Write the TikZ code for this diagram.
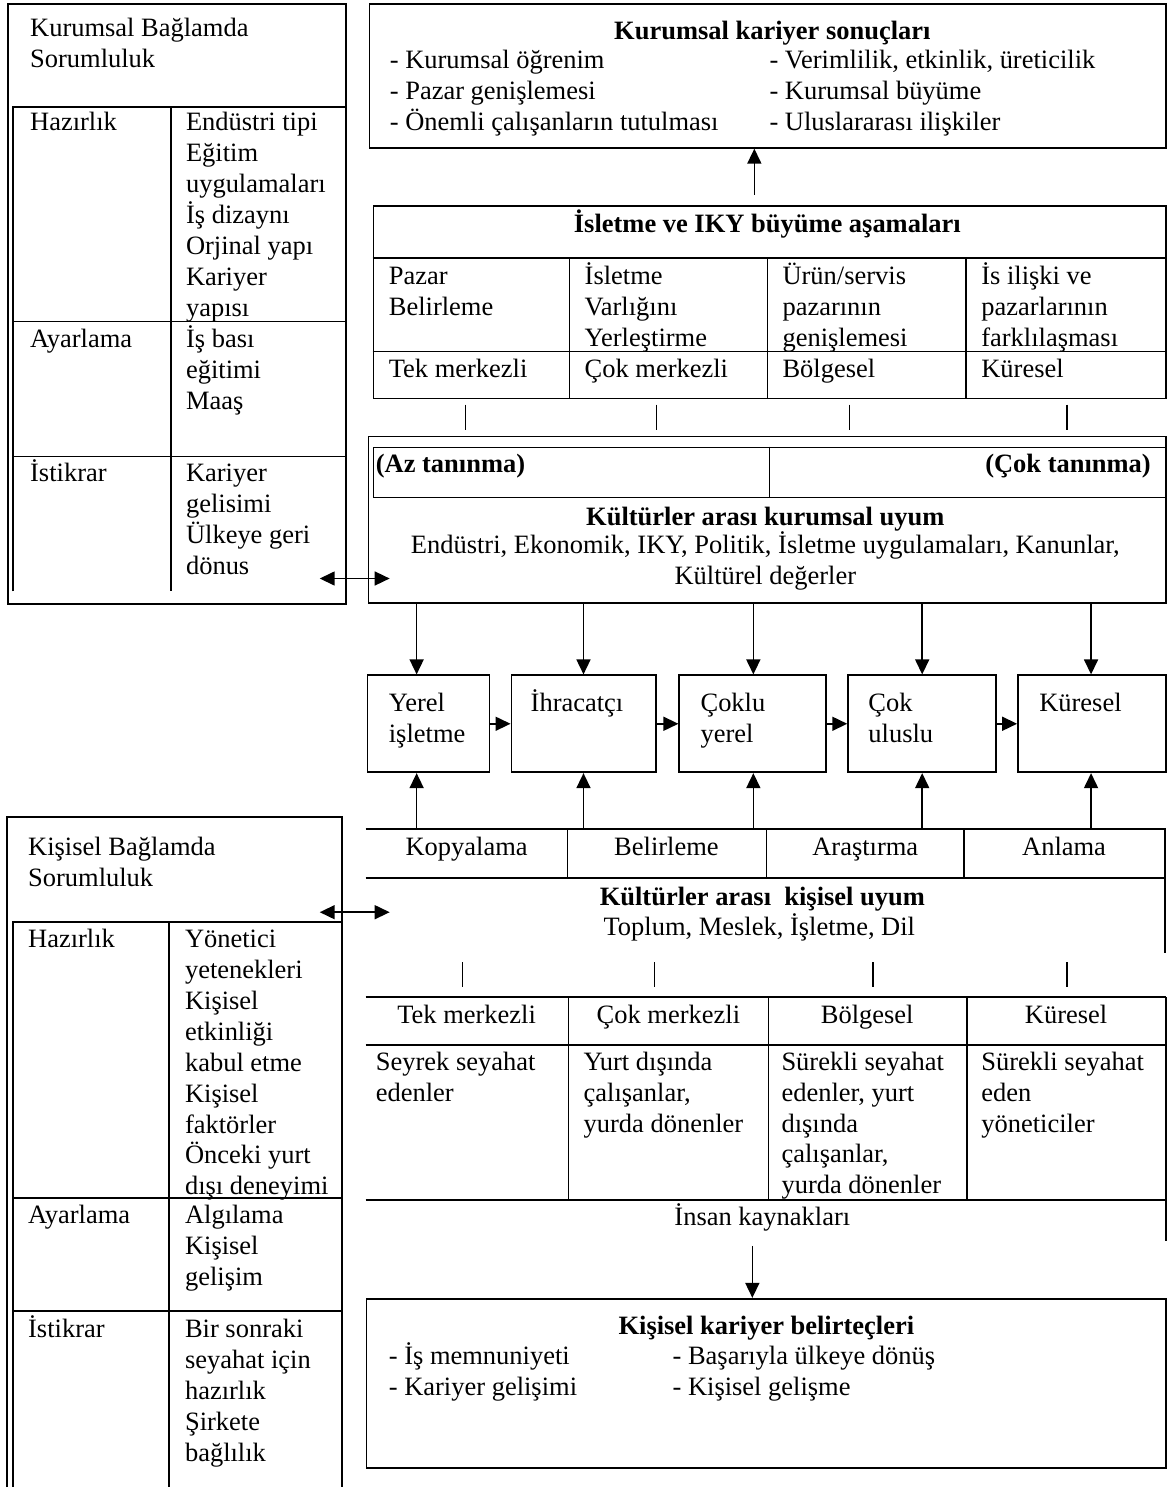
\documentclass[tikz,border=0pt]{standalone}
\usepackage{fontspec}
\setmainfont{Liberation Serif}
\usetikzlibrary{arrows.meta}

\newcommand{\fs}{\fontsize{26.5pt}{31pt}\selectfont}
\newcommand{\txtl}[1]{\begin{tabular}[t]{@{}l@{}}#1\end{tabular}}
\newcommand{\txtc}[1]{\begin{tabular}[t]{@{}c@{}}#1\end{tabular}}

\tikzset{
	frame/.style={draw, line width=1.8pt},
	box/.style={frame, inner sep=0pt, anchor=north west},
	area/.style={inner sep=0pt, anchor=north west},
	rule/.style={line width=1.5pt},
	lbl/.style={inner sep=0pt, anchor=base west},
	mid/.style={inner sep=0pt, anchor=base},
	hdr/.style={mid, font={\fs\bfseries}},
	arr/.style={line width=1.6pt, -{Triangle[length=15pt, width=14pt]}},
	darr/.style={line width=1.6pt, {Triangle[length=15pt, width=14pt]}-{Triangle[length=15pt, width=14pt]}},
}

\begin{document}
\begin{tikzpicture}[x=1pt, y=-1pt, font=\fs]
	\path (0,0) to (1169,1488);

	\node[box, minimum width=338pt, minimum height=601pt] (kbs) at (7,3) {};
	\node[box, minimum width=797pt, minimum height=144pt] (kks) at (369,3) {};
	\node[box, minimum width=793pt, minimum height=193pt] (iky) at (373,205) {};
	\node[box, minimum width=798pt, minimum height=167pt] (kku) at (368,436) {};
	\node[box, minimum width=793pt, minimum height=50pt] (tan) at (373,447) {};
	\node[box, minimum width=122pt, minimum height=97pt] (yerel) at (367,675) {};
	\node[box, minimum width=145pt, minimum height=97pt] (ihr) at (511,675) {};
	\node[box, minimum width=147pt, minimum height=97pt] (coklu) at (679,675) {};
	\node[box, minimum width=148pt, minimum height=97pt] (cokul) at (848,675) {};
	\node[box, minimum width=148pt, minimum height=97pt] (kur) at (1018,675) {};
	\node[area, minimum width=800pt, minimum height=123pt] (ksu) at (366,830) {};
	\node[area, minimum width=801pt, minimum height=203pt] (ikt) at (366,998) {};
	\node[box, minimum width=800pt, minimum height=169pt] (kkb) at (366,1299) {};
	\node[area, minimum width=335pt, minimum height=670pt] (kis) at (7,818) {};

	\draw[rule] (13,592) -- (13,107) -- (345,107);
	\draw[rule] (171,107) -- (171,592);
	\foreach \y in {322,457} \draw[rule] (13,\y) -- (345,\y);

	\draw[frame] (kis.south west) -- (kis.north west) -- (kis.north east) -- (kis.south east);
	\draw[rule] (13,1488) -- (13,923) -- (342,923);
	\draw[rule] (169,923) -- (169,1488);
	\foreach \y in {1199,1312} \draw[rule] (13,\y) -- (342,\y);

	\foreach \y in {258,352} \draw[rule] (373,\y) -- (1166,\y);
	\foreach \x in {570,768,967} \draw[rule] (\x,258) -- (\x,398);
	\draw[rule] (770,447) -- (770,497);
	\foreach \x in {466,657,850,1068} \draw[rule] (\x,405) -- (\x,430);

	\draw[frame] (ksu.north west) -- (ksu.north east) -- (ksu.south east);
	\draw[rule] (366,879) -- (1166,879);
	\foreach \x in {568,767,965} \draw[rule] (\x,830) -- (\x,879);
	\foreach \x in {463,655,874,1068} \draw[rule] (\x,963) -- (\x,988);

	\foreach \y in {998,1046,1201} \draw[rule] (366,\y) -- (1167,\y);
	\foreach \x in {569,769,968} \draw[rule] (\x,998) -- (\x,1201);
	\draw[frame] (1167,998) -- (1167,1242);

	\node[lbl] (kbs1) at (30,37) {\txtl{Kurumsal Bağlamda\\Sorumluluk}};
	\node[lbl] (kbs2) at (30,131) {Hazırlık};
	\node[lbl] (kbs3) at (186,131) {\txtl{Endüstri tipi\\Eğitim\\uygulamaları\\İş dizaynı\\Orjinal yapı\\Kariyer\\yapısı}};
	\node[lbl] (kbs4) at (30,348) {Ayarlama};
	\node[lbl] (kbs5) at (186,348) {\txtl{İş bası\\eğitimi\\Maaş}};
	\node[lbl] (kbs6) at (30,482) {İstikrar};
	\node[lbl] (kbs7) at (186,482) {\txtl{Kariyer\\gelisimi\\Ülkeye geri\\dönus}};

	\node[hdr] (kks1) at (773,40) {Kurumsal kariyer sonuçları};
	\node[lbl] (kks2) at (390,69) {\txtl{- Kurumsal öğrenim\\- Pazar genişlemesi\\- Önemli çalışanların tutulması}};
	\node[lbl] (kks3) at (770,69) {\txtl{- Verimlilik, etkinlik, üreticilik\\- Kurumsal büyüme\\- Uluslararası ilişkiler}};

	\node[hdr] (iky1) at (768,233) {İsletme ve IKY büyüme aşamaları};
	\node[lbl] (iky2) at (389,285) {\txtl{Pazar\\Belirleme}};
	\node[lbl] (iky3) at (585,285) {\txtl{İsletme\\Varlığını\\Yerleştirme}};
	\node[lbl] (iky4) at (783,285) {\txtl{Ürün/servis\\pazarının\\genişlemesi}};
	\node[lbl] (iky5) at (982,285) {\txtl{İs ilişki ve\\pazarlarının\\farklılaşması}};
	\node[lbl] (iky6) at (389,378) {Tek merkezli};
	\node[lbl] (iky7) at (585,378) {Çok merkezli};
	\node[lbl] (iky8) at (783,378) {Bölgesel};
	\node[lbl] (iky9) at (982,378) {Küresel};

	\node[lbl, font={\fs\bfseries}] (tan1) at (376,473) {(Az tanınma)};
	\node[lbl, anchor=base east, font={\fs\bfseries}] (tan2) at (1152,473) {(Çok tanınma)};
	\node[hdr] (kku1) at (766,526) {Kültürler arası kurumsal uyum};
	\node[mid] (kku2) at (766,554) {\txtc{Endüstri, Ekonomik, IKY, Politik, İsletme uygulamaları, Kanunlar,\\Kültürel değerler}};

	\node[lbl] (yerel1) at (389,712) {\txtl{Yerel\\işletme}};
	\node[lbl] (ihr1) at (531,712) {İhracatçı};
	\node[lbl] (coklu1) at (701,712) {\txtl{Çoklu\\yerel}};
	\node[lbl] (cokul1) at (869,712) {\txtl{Çok\\uluslu}};
	\node[lbl] (kur1) at (1040,712) {Küresel};

	\node[mid] (ksu1) at (467,856) {Kopyalama};
	\node[mid] (ksu2) at (667,856) {Belirleme};
	\node[mid] (ksu3) at (866,856) {Araştırma};
	\node[mid] (ksu4) at (1065,856) {Anlama};
	\node[hdr] (ksu5) at (763,906) {Kültürler arası~~kişisel uyum};
	\node[mid] (ksu6) at (760,936) {Toplum, Meslek, İşletme, Dil};

	\node[mid] (ikt1) at (467,1024) {Tek merkezli};
	\node[mid] (ikt2) at (669,1024) {Çok merkezli};
	\node[mid] (ikt3) at (868,1024) {Bölgesel};
	\node[mid] (ikt4) at (1067,1024) {Küresel};
	\node[lbl] (ikt5) at (376,1071) {\txtl{Seyrek seyahat\\edenler}};
	\node[lbl] (ikt6) at (584,1071) {\txtl{Yurt dışında\\çalışanlar,\\yurda dönenler}};
	\node[lbl] (ikt7) at (782,1071) {\txtl{Sürekli seyahat\\edenler, yurt\\dışında\\çalışanlar,\\yurda dönenler}};
	\node[lbl] (ikt8) at (982,1071) {\txtl{Sürekli seyahat\\eden\\yöneticiler}};
	\node[mid] (ikt9) at (763,1227) {İnsan kaynakları};

	\node[hdr] (kkb1) at (767,1336) {Kişisel kariyer belirteçleri};
	\node[lbl] (kkb2) at (389,1366) {\txtl{- İş memnuniyeti\\- Kariyer gelişimi}};
	\node[lbl] (kkb3) at (673,1366) {\txtl{- Başarıyla ülkeye dönüş\\- Kişisel gelişme}};

	\node[lbl] (kis1) at (28,856) {\txtl{Kişisel Bağlamda\\Sorumluluk}};
	\node[lbl] (kis2) at (28,948) {Hazırlık};
	\node[lbl] (kis3) at (185,948) {\txtl{Yönetici\\yetenekleri\\Kişisel\\etkinliği\\kabul etme\\Kişisel\\faktörler\\Önceki yurt\\dışı deneyimi}};
	\node[lbl] (kis4) at (28,1225) {Ayarlama};
	\node[lbl] (kis5) at (185,1225) {\txtl{Algılama\\Kişisel\\gelişim}};
	\node[lbl] (kis6) at (28,1339) {İstikrar};
	\node[lbl] (kis7) at (185,1339) {\txtl{Bir sonraki\\seyahat için\\hazırlık\\Şirkete\\bağlılık}};

	\coordinate (up) at (755,195);
	\draw[arr] (up) -- (up |- kks.south);
	\foreach \n/\x in {yerel/417, ihr/584, coklu/754, cokul/923, kur/1092} {
		\draw[arr] (\x,0 |- kku.south) -- (\x,0 |- \n.north);
		\draw[arr] (\x,0 |- ksu.north) -- (\x,0 |- \n.south);
	}
	\foreach \a/\b in {yerel/ihr, ihr/coklu, coklu/cokul, cokul/kur} \draw[arr] (\a.east) -- (\b.west);

	\coordinate (kl) at (320,579);
	\coordinate (kr) at (390,579);
	\draw[darr] (kl) -- (kr);
	\coordinate (pl) at (320,913);
	\coordinate (pr) at (390,913);
	\draw[darr] (pl) -- (pr);

	\coordinate (ik) at (753,1247);
	\draw[arr] (ik) -- (ik |- kkb.north);

\end{tikzpicture}
\end{document}
